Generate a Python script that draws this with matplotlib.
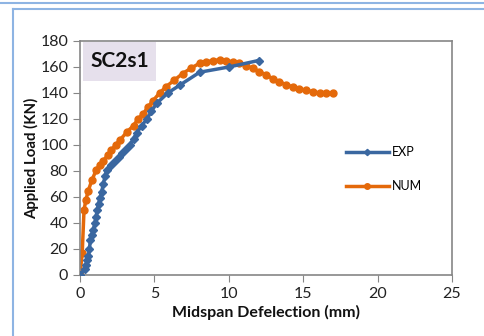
import matplotlib
matplotlib.use("Agg")
import matplotlib.pyplot as plt
from matplotlib.patches import Rectangle
from matplotlib.lines import Line2D

plt.rcParams['font.family'] = ['Lato', 'DejaVu Sans']

# experimental curve (midspan deflection mm, load kN)
exp_x = [0, 0.34, 0.42, 0.5, 0.57, 0.63, 0.7, 0.78, 0.9, 1.0, 1.08, 1.16, 1.25, 1.34, 1.45, 1.57, 1.68, 1.8,
         2.1, 2.35, 2.6, 2.8, 3.1, 3.35, 3.6, 3.8, 4.15, 4.5, 4.8, 5.15, 5.9, 6.7, 8.05, 10.0, 12.0]
exp_y = [0, 5, 8, 11.5, 15, 20, 27, 31, 35, 40, 45, 50, 55, 59, 64, 70, 76, 81,
         85, 88, 91, 94, 97, 100, 105, 109, 115, 120, 126, 132, 140, 146, 156, 160, 165]

# numerical curve
num_x = [0, 0.15, 0.27, 0.4, 0.56, 0.8, 1.1, 1.35, 1.57, 1.85, 2.1, 2.4, 2.7, 3.15, 3.6, 3.9, 4.25, 4.55, 4.9,
         5.35, 5.8, 6.35, 6.9, 7.45, 8.05, 8.5, 8.95, 9.4, 9.8, 10.25, 10.7, 11.15, 11.6, 12.05, 12.5, 12.95,
         13.4, 13.85, 14.3, 14.75, 15.2, 15.65, 16.1, 16.55, 17.0]
num_y = [0, 17, 50, 58, 65, 73, 81, 85, 88, 92, 96, 100, 104, 110, 115, 120, 124, 129, 134,
         140, 145, 150, 155, 159, 163, 164, 165, 165.5, 165, 164, 163, 161, 159, 156.5, 154, 151,
         148.5, 146.5, 144.6, 143.3, 142, 141, 140, 139.8, 140.3]

x_ticks = [0, 5, 10, 15, 20, 25]
y_ticks = list(range(0, 181, 20))

blue = '#3a67a0'
orange = '#e4690a'
gray = '#868686'

fig = plt.figure(figsize=(4.84, 3.36), dpi=100)

# light blue frames of the surrounding document
fig.add_artist(Line2D([0, 1], [1 - 2.5/336, 1 - 2.5/336], color='#8eb4e3', lw=1.5))
fig.add_artist(Line2D([13/484, 1], [1 - 8.5/336, 1 - 8.5/336], color='#8eb4e3', lw=1.5))
fig.add_artist(Line2D([13/484, 13/484], [0, 1 - 8.5/336], color='#8eb4e3', lw=1.5))

ax = fig.add_axes([80/484, 61/336, 372/484, 234/336])
ax.plot(exp_x, exp_y, color=blue, lw=2.5, marker='D', ms=4, label='EXP', zorder=3)
ax.plot(num_x, num_y, color=orange, lw=2.5, marker='o', ms=5, label='NUM', zorder=2)

ax.set_xlim(0, 25)
ax.set_ylim(0, 180)
ax.set_xticks(x_ticks)
ax.set_yticks(y_ticks)
ax.tick_params(direction='out', length=5, color=gray, labelsize=11.5, labelcolor='#222222')
for s in ax.spines.values():
    s.set_color(gray)
    s.set_linewidth(1.2)
    s.set_clip_on(False)

ax.set_xlabel('Midspan Defelection (mm)', fontsize=11.5, fontweight='bold', color='#111111', labelpad=3)
ax.set_ylabel('Applied Load (KN)', fontsize=10.8, fontweight='bold', color='#111111', labelpad=1)

ax.add_patch(Rectangle((0.008, 0.83), 0.195, 0.165, transform=ax.transAxes,
                       facecolor='#e6e0ec', edgecolor='none', zorder=1))
ax.text(0.106, 0.913, 'SC2s1', transform=ax.transAxes, fontsize=15, fontweight='bold',
        ha='center', va='center', color='#111111', zorder=4)

ax.legend(loc='center left', bbox_to_anchor=(0.685, 0.453), frameon=False, fontsize=9,
          handlelength=3.4, labelspacing=1.75, handletextpad=0.3, markerscale=0.8)

fig.savefig('out.png', dpi=100)
